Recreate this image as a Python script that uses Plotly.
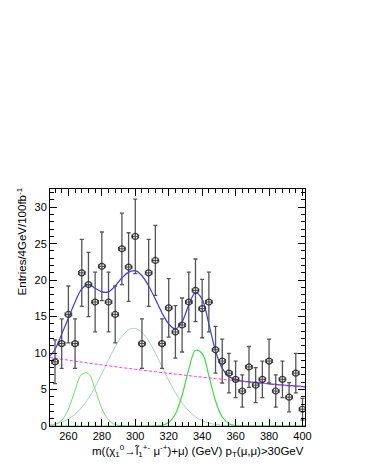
"""
Invariant mass fit: m((chi_1^0 -> slepton mu) + mu), pT(mu,mu) > 30 GeV
"""
import plotly.graph_objects as go

# binned data (bin centres in GeV, entries per 4 GeV per 100 fb^-1)
bin_centres = [252, 256, 260, 264, 268, 272, 276, 280, 284, 288, 292, 296, 300,
               304, 308, 312, 316, 320, 324, 328, 332, 336, 340, 344, 348, 352,
               356, 360, 364, 368, 372, 376, 380, 384, 388, 392, 396, 400]
entries = [8.8, 11.3, 15.3, 11.3, 21.0, 19.4, 17.0, 21.9, 17.0, 15.3, 24.3, 21.8, 26.0,
           11.3, 21.0, 22.7, 11.3, 16.2, 12.9, 13.85, 17.0, 18.6, 16.1, 17.0, 10.45, 8.9,
           7.25, 6.4, 4.8, 8.1, 5.6, 6.4, 8.9, 4.8, 6.4, 3.95, 7.25, 2.3]
entry_errors = [3.0, 3.4, 3.9, 3.4, 4.6, 4.4, 4.1, 4.7, 4.1, 3.9, 4.9, 4.7, 5.1,
                3.4, 4.6, 4.8, 3.4, 4.0, 3.6, 3.7, 4.1, 4.3, 4.0, 4.1, 3.2, 3.0,
                2.7, 2.5, 2.2, 2.8, 2.4, 2.5, 3.0, 2.2, 2.5, 2.0, 2.7, 1.5]

# fit curves
curve_x = [249, 252, 256, 260, 264, 268, 272, 276, 280, 284, 288, 292, 296, 300,
           304, 308, 312, 316, 320, 324, 328, 332, 336, 340, 344, 348, 352, 356,
           360, 364, 368, 372, 376, 380, 384, 388, 392, 396, 400, 401.5]
total_fit = [9.6, 10.5, 12.6, 14.8, 17.0, 18.8, 19.4, 18.9, 18.4, 18.4, 19.2, 20.3, 21.1, 21.3,
             20.6, 19.2, 17.4, 15.5, 14.0, 13.3, 14.3, 16.6, 18.3, 17.4, 14.0, 10.3, 7.9, 6.8,
             6.35, 6.15, 6.05, 5.95, 5.87, 5.78, 5.7, 5.62, 5.55, 5.48, 5.42, 5.4]
background = [9.40, 9.30, 9.16, 9.03, 8.89, 8.76, 8.63, 8.50, 8.38, 8.25, 8.13, 8.01, 7.89, 7.78,
              7.66, 7.55, 7.44, 7.33, 7.22, 7.11, 7.01, 6.90, 6.80, 6.70, 6.60, 6.50, 6.41, 6.31,
              6.22, 6.13, 6.04, 5.95, 5.86, 5.77, 5.69, 5.60, 5.52, 5.44, 5.36, 5.33]
peak_270 = [0.05, 0.2, 0.8, 2.3, 4.9, 7.1, 7.2, 5.0, 2.4, 0.8, 0.2, 0.04, 0, 0,
            0, 0, 0, 0, 0, 0, 0, 0, 0, 0, 0, 0, 0, 0,
            0, 0, 0, 0, 0, 0, 0, 0, 0, 0, 0, 0]
peak_300 = [0.18, 0.29, 0.55, 0.96, 1.61, 2.54, 3.80, 5.37, 7.18, 9.08, 10.87, 12.31, 13.19, 13.38,
            12.83, 11.65, 10.00, 8.13, 6.25, 4.55, 3.13, 2.04, 1.25, 0.73, 0.40, 0.21, 0.10, 0.05,
            0.02, 0, 0, 0, 0, 0, 0, 0, 0, 0, 0, 0]
peak_337 = [0, 0, 0, 0, 0, 0, 0, 0, 0, 0, 0, 0, 0, 0,
            0, 0, 0.01, 0.09, 0.47, 1.65, 4.22, 7.78, 10.36, 9.94, 6.89, 3.44, 1.24, 0.32,
            0.06, 0.01, 0, 0, 0, 0, 0, 0, 0, 0, 0, 0]

FONT = "Liberation Sans, Arial, sans-serif"

fig = go.Figure()

# signal / background components
fig.add_trace(go.Scatter(x=curve_x, y=peak_300, mode='lines', line=dict(color='#a6d6c4', width=1, shape='spline')))
fig.add_trace(go.Scatter(x=curve_x, y=peak_270, mode='lines', line=dict(color='#70dc70', width=1, shape='spline')))
fig.add_trace(go.Scatter(x=curve_x, y=peak_337, mode='lines', line=dict(color='#3ee03e', width=1.2, shape='spline')))
fig.add_trace(go.Scatter(x=curve_x, y=total_fit, mode='lines', line=dict(color='#3b3bf5', width=1.2, shape='spline')))
fig.add_trace(go.Scatter(x=curve_x, y=background, mode='lines',
                         line=dict(color='#ff33ff', width=1, dash='3px,2px', shape='spline')))

# data points
fig.add_trace(go.Scatter(
    x=bin_centres, y=entries, mode='markers',
    marker=dict(symbol='circle-open', size=6, color='#333333', line=dict(width=1.2)),
    error_y=dict(type='data', array=entry_errors, color='#555555', thickness=1.3, width=2),
    error_x=dict(type='constant', value=2, color='#444444', thickness=1, width=2),
))

axis_style = dict(
    showline=True, linecolor='black', linewidth=1, mirror='allticks',
    ticks='inside', ticklen=7, tickcolor='black', showgrid=False, zeroline=False,
    tickfont=dict(family=FONT, size=11, color='black'),
)
fig.update_xaxes(range=[249, 401.5], tickmode='linear', tick0=260, dtick=20,
                 minor=dict(ticks='inside', ticklen=4, tick0=260, dtick=4, tickcolor='black'),
                 **axis_style)
fig.update_yaxes(range=[0, 32.5], tickmode='linear', tick0=0, dtick=5,
                 minor=dict(ticks='inside', ticklen=4, tick0=0, dtick=1, tickcolor='black'),
                 **axis_style)

fig.add_annotation(
    xref='paper', yref='paper', x=1.004, y=-0.105, xanchor='right', yanchor='middle',
    text='m((χ<sub>1</sub><sup>0</sup>→l\u0303<sub>1</sub><sup>+-</sup> μ<sup>-+</sup>)+μ) (GeV) '
         'p<sub>T</sub>(μ,μ)>30GeV',
    showarrow=False, font=dict(family=FONT, size=11.5, color='black'),
)
fig.add_annotation(
    xref='paper', yref='paper', x=-0.11, y=1.015, xanchor='center', yanchor='top',
    text='Entries/4GeV/100fb<sup>-1</sup>', textangle=-90,
    showarrow=False, font=dict(family=FONT, size=11.5, color='black'),
)

fig.update_layout(
    width=366, height=473,
    margin=dict(l=42, r=69, t=181, b=55),
    plot_bgcolor='white', paper_bgcolor='white',
    showlegend=False,
)

fig.write_html("out.html")
